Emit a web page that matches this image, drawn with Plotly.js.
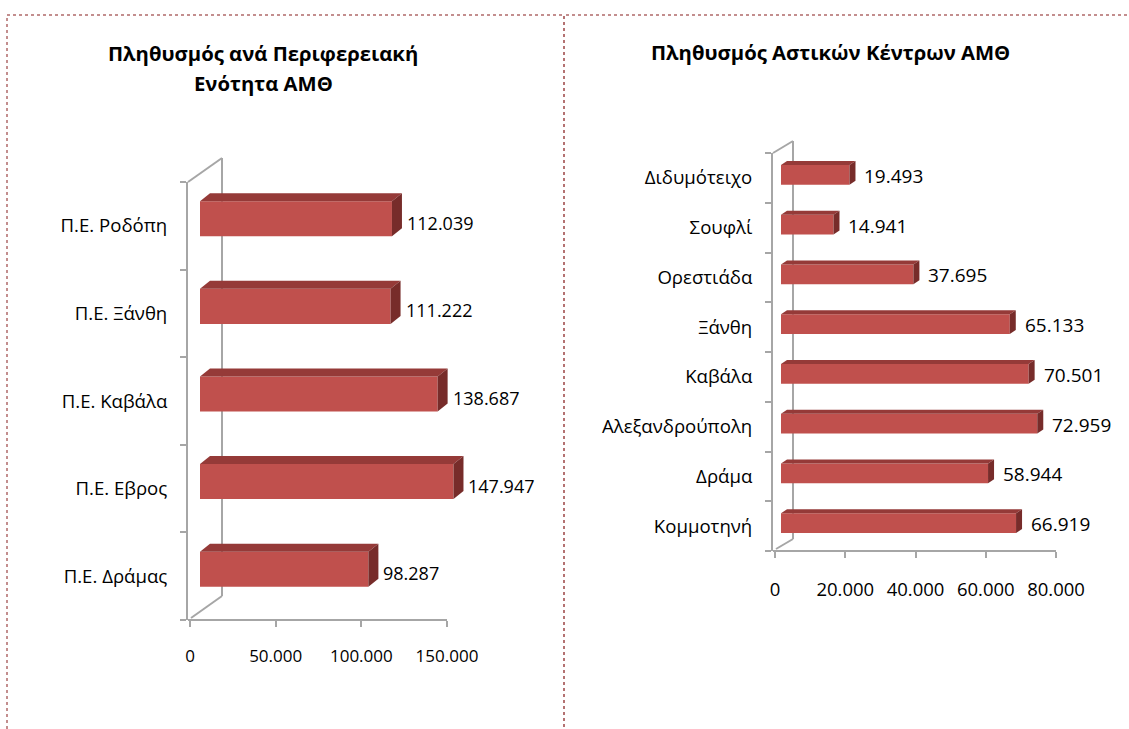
<!DOCTYPE html>
<html>
<head>
<meta charset="utf-8">
<script src="https://cdn.plot.ly/plotly-3.0.1.min.js"></script>
<style>
  html, body { margin: 0; padding: 0; background: #fff; }
  #chart { width: 1129px; height: 729px; }
</style>
</head>
<body>
<div id="chart"></div>
<script>
// Population per regional unit (bottom to top)
const unitNames = ["Π.Ε. Δράμας", "Π.Ε. Εβρος", "Π.Ε. Καβάλα", "Π.Ε. Ξάνθη", "Π.Ε. Ροδόπη"];
const unitPop = [98287, 147947, 138687, 111222, 112039];
const unitTicks = [0, 50000, 100000, 150000];

// Population of urban centres (bottom to top)
const cityNames = ["Κομμοτηνή", "Δράμα", "Αλεξανδρούπολη", "Καβάλα", "Ξάνθη", "Ορεστιάδα", "Σουφλί", "Διδυμότειχο"];
const cityPop = [66919, 58944, 72959, 70501, 65133, 37695, 14941, 19493];
const cityTicks = [0, 20000, 40000, 60000, 80000];

const W = 1129, H = 729;
const FONT = "Open Sans, Noto Sans, sans-serif";
const AXIS_GRAY = "#a6a6a6";
const FRONT = "#c0504d", TOP = "#953a38", SIDE = "#772c2a";

const px = v => v / W;
const py = v => 1 - v / H;

function fmt(v) {
  return String(v).replace(/\B(?=(\d{3})+(?!\d))/g, ".");
}

// panel geometry (pixels) to mimic the Excel 3D bars
// left..axisEnd is the drawn floor line; the plot area runs on to plotRight
const panels = [
  {
    names: unitNames, values: unitPop, ticks: unitTicks,
    xa: "x", ya: "y", xkey: "xaxis", ykey: "yaxis",
    left: 188, axisEnd: 447, plotRight: 545, top: 182, bottom: 620,
    tickMin: -1170, tickMax: 150000, barShift: 10,
    depthX: 10, depthY: 8, wallX: 34, wallY: 24,
    labelPad: 3, labelDy: 3, barUp: 0.08,
    tickSize: 17, valueSize: 18, tickStandoff: 15
  },
  {
    names: cityNames, values: cityPop, ticks: cityTicks,
    xa: "x2", ya: "y2", xkey: "xaxis2", ykey: "yaxis2",
    left: 773, axisEnd: 1056, plotRight: 1120, top: 153, bottom: 551,
    tickMin: -570, tickMax: 80000, barShift: 6,
    depthX: 6, depthY: 4, wallX: 20, wallY: 12,
    labelPad: 7, labelDy: 2, barUp: 0.06,
    tickSize: 18.5, valueSize: 19, tickStandoff: 16
  }
];

const traces = [];
const shapes = [];
const annotations = [];
const layout = {
  width: W, height: H,
  margin: { l: 0, r: 0, t: 0, b: 0 },
  paper_bgcolor: "#fff", plot_bgcolor: "rgba(0,0,0,0)",
  showlegend: false,
  font: { family: FONT, size: 16, color: "#000" }
};

panels.forEach(p => {
  const unitsPerPx = (p.tickMax - p.tickMin) / (p.axisEnd - p.left);
  const rangeMax = p.tickMin + (p.plotRight - p.left) * unitsPerPx;
  // bars sit a little deeper than the front axis, so they start further right
  const shift = p.barShift * unitsPerPx;
  const slotPx = (p.bottom - p.top) / p.names.length;
  const width = 0.4;
  const offset = -width / 2 + p.barUp;
  const dxu = p.depthX * unitsPerPx;
  const dyu = p.depthY / slotPx;

  layout[p.xkey] = {
    domain: [px(p.left), px(p.plotRight)], anchor: p.ya,
    range: [p.tickMin - shift, rangeMax - shift],
    showgrid: false, zeroline: false, showline: false,
    ticks: "outside", ticklen: 6, tickwidth: 2, tickcolor: AXIS_GRAY,
    tickmode: "array",
    tickvals: p.ticks.map(t => t - shift),
    ticktext: p.ticks.map(fmt),
    ticklabelstandoff: p.tickStandoff,
    tickfont: { size: p.tickSize }, fixedrange: true
  };
  layout[p.ykey] = {
    domain: [py(p.bottom), py(p.top)], anchor: p.xa, type: "category",
    range: [-0.5, p.names.length - 0.5],
    showgrid: false, zeroline: false, showline: true,
    linecolor: AXIS_GRAY, linewidth: 2,
    ticks: "outside", ticklen: 6, tickwidth: 2, tickcolor: AXIS_GRAY,
    tickson: "boundaries", ticklabelstandoff: 15,
    tickfont: { size: 18.6 }, fixedrange: true
  };

  traces.push({
    type: "bar", orientation: "h",
    x: p.values, y: p.names,
    xaxis: p.xa, yaxis: p.ya,
    width: width, offset: offset,
    marker: { color: FRONT, line: { width: 0 } },
    hoverinfo: "skip"
  });

  // top and side faces of each bar, plus its value label
  p.values.forEach((v, i) => {
    const yb = i + offset, yt = i + offset + width;
    shapes.push({
      type: "path", xref: p.xa, yref: p.ya, layer: "above",
      path: `M0,${yt} L${v},${yt} L${v + dxu},${yt + dyu} L${dxu},${yt + dyu} Z`,
      fillcolor: TOP, line: { width: 0 }
    });
    shapes.push({
      type: "path", xref: p.xa, yref: p.ya, layer: "above",
      path: `M${v},${yb} L${v},${yt} L${v + dxu},${yt + dyu} L${v + dxu},${yb + dyu} Z`,
      fillcolor: SIDE, line: { width: 0 }
    });
    annotations.push({
      xref: p.xa, yref: p.ya, x: v, y: i,
      text: fmt(v), showarrow: false,
      xanchor: "left", yanchor: "middle",
      xshift: p.depthX + p.labelPad, yshift: p.labelDy,
      font: { size: p.valueSize }
    });
  });

  // floor front edge and back wall of the 3D frame
  const wallLine = { color: AXIS_GRAY, width: 2 };
  shapes.push({ type: "line", xref: "paper", yref: "paper", layer: "below",
    x0: px(p.left), x1: px(p.axisEnd),
    y0: py(p.bottom), y1: py(p.bottom), line: wallLine });
  shapes.push({ type: "line", xref: "paper", yref: "paper", layer: "below",
    x0: px(p.left + p.wallX), x1: px(p.left + p.wallX),
    y0: py(p.top - p.wallY), y1: py(p.bottom - p.wallY), line: wallLine });
  shapes.push({ type: "line", xref: "paper", yref: "paper", layer: "below",
    x0: px(p.left), x1: px(p.left + p.wallX),
    y0: py(p.top), y1: py(p.top - p.wallY), line: wallLine });
  shapes.push({ type: "line", xref: "paper", yref: "paper", layer: "below",
    x0: px(p.left + 3), x1: px(p.left + p.wallX),
    y0: py(p.bottom - 2), y1: py(p.bottom - p.wallY), line: wallLine });
});

// dotted frames round the two charts
const frameLine = { color: "#b06a69", width: 1.5, dash: "dot" };
shapes.push({ type: "rect", xref: "paper", yref: "paper", layer: "below",
  x0: px(7), x1: px(564), y0: py(740), y1: py(15), line: frameLine });
shapes.push({ type: "rect", xref: "paper", yref: "paper", layer: "below",
  x0: px(564), x1: px(1140), y0: py(740), y1: py(15), line: frameLine });

// titles
const titleFont = { family: FONT, size: 20.3, color: "#000" };
annotations.push({ xref: "paper", yref: "paper", x: px(263), y: py(53),
  text: "<b>Πληθυσμός ανά Περιφερειακή</b>", showarrow: false,
  xanchor: "center", yanchor: "middle", font: titleFont });
annotations.push({ xref: "paper", yref: "paper", x: px(263), y: py(83),
  text: "<b>Ενότητα ΑΜΘ</b>", showarrow: false,
  xanchor: "center", yanchor: "middle", font: titleFont });
annotations.push({ xref: "paper", yref: "paper", x: px(830), y: py(52),
  text: "<b>Πληθυσμός Αστικών Κέντρων ΑΜΘ</b>", showarrow: false,
  xanchor: "center", yanchor: "middle", font: titleFont });

layout.shapes = shapes;
layout.annotations = annotations;

Plotly.newPlot("chart", traces, layout, { displayModeBar: false, staticPlot: true });
</script>
</body>
</html>
